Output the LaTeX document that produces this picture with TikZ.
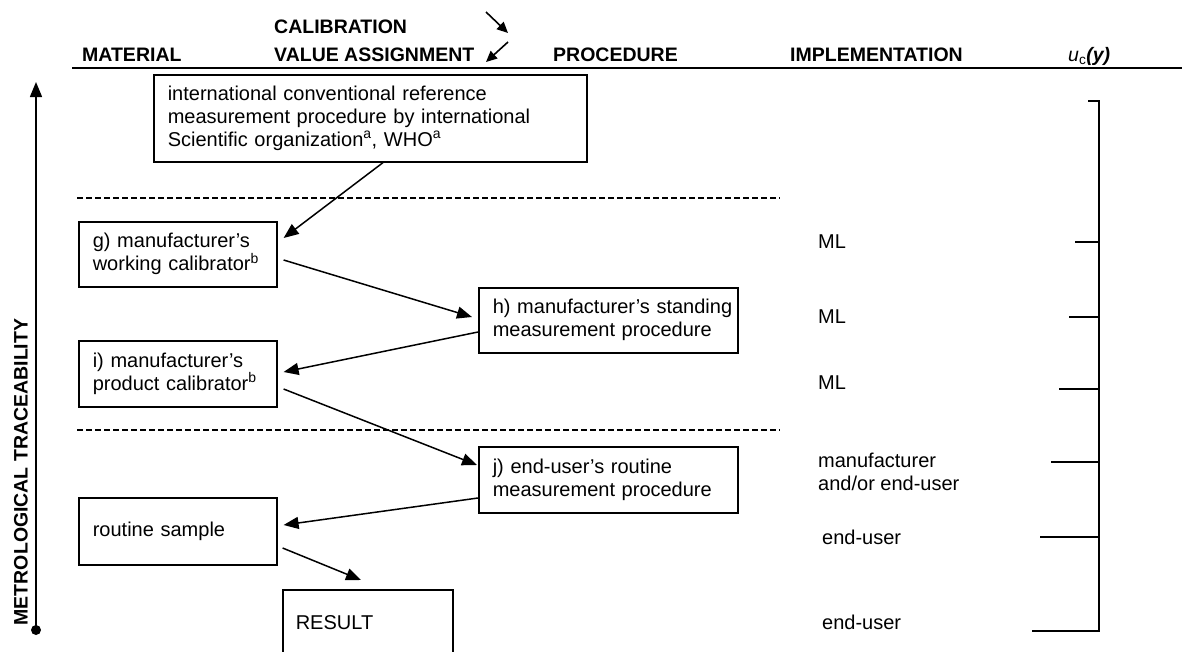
\documentclass[tikz,border=0pt]{standalone}
\usepackage{fontspec}
\setmainfont{Liberation Sans}
\usetikzlibrary{arrows.meta,calc}

\begin{document}
\begin{tikzpicture}[x=1pt,y=-1pt,
  every node/.style={font=\fontsize{20}{23}\selectfont, inner sep=0pt},
  box/.style={draw, line width=1.6pt, anchor=north west, align=left,
              inner xsep=14pt, inner ysep=0pt},
  head/.style={font=\fontsize{19.5}{23}\selectfont\bfseries, anchor=base west},
  lab/.style={anchor=west, align=left},
  conn/.style={line width=1.5pt, -{Triangle[length=15pt,width=12pt]}},
  smallarrow/.style={line width=1.6pt, -{Triangle[length=11pt,width=10pt]}},
  sep/.style={line width=1.2pt, dash pattern=on 6pt off 3pt},
  scale line/.style={line width=1.6pt}
]
\useasboundingbox (0,0) rectangle (1185,651);

% column headings
\node[head] (hmat)  at (82,61)  {MATERIAL};
\node[head] (hcal)  at (274,33) {CALIBRATION};
\node[head] (hval)  at (274,61) {VALUE ASSIGNMENT};
\node[head] (hproc) at (553,61) {PROCEDURE};
\node[head] (himp)  at (790,61) {IMPLEMENTATION};
\node[anchor=base west, font=\fontsize{19.5}{23}\selectfont] (hunc) at (1068,61)
  {\textit{u}\textsubscript{c}\textbf{\textit{(y)}}};
\coordinate (rl) at (72,68);
\coordinate (rr) at (1182,68);
\draw[line width=2pt] (rl) -- (rr);

% small direction arrows in the heading
\coordinate (da1) at (486,12);
\coordinate (da2) at (508,33);
\coordinate (db1) at (508,42);
\coordinate (db2) at (486,62);
\draw[smallarrow] (da1) -- (da2);
\draw[smallarrow] (db1) -- (db2);

% boxes
\node[box, text width=405pt, minimum height=87pt] (top) at (153,74)
  {international conventional reference\\
   measurement procedure by international\\
   Scientific organization\textsuperscript{a}, WHO\textsuperscript{a}};
\node[box, text width=170pt, minimum height=65pt] (g) at (78,221)
  {\mbox{g) manufacturer's}\\\mbox{working calibrator\textsuperscript{b}}};
\node[box, text width=231pt, minimum height=65pt] (h) at (478,287)
  {\mbox{h) manufacturer's standing}\\\mbox{measurement procedure}};
\node[box, text width=170pt, minimum height=66pt] (i) at (78,340)
  {\mbox{i) manufacturer's}\\\mbox{product calibrator\textsuperscript{b}}};
\node[box, text width=231pt, minimum height=66pt] (j) at (478,446)
  {\mbox{j) end-user's routine}\\\mbox{measurement procedure}};
\node[box, text width=170pt, minimum height=67pt] (rs) at (78,497)
  {routine sample};
\node[box, inner xsep=13pt, text width=144pt, minimum height=66pt] (res) at (282,589)
  {RESULT};

% separators
\coordinate (s1a) at (77,198);
\coordinate (s1b) at (780,198);
\coordinate (s2a) at (77,430);
\coordinate (s2b) at (780,430);
\draw[sep] (s1a) -- (s1b);
\draw[sep] (s2a) -- (s2b);

% calibration chain
\draw[conn] ($(top.south west)+(230,0)$) -- ($(g.north east)+(6,17)$);
\draw[conn] ($(g.north east)+(6,39)$) -- ($(h.north west)+(-6,30)$);
\draw[conn] ($(h.north west)+(0,45)$) -- ($(i.north east)+(6,32)$);
\draw[conn] ($(i.north east)+(6,49)$) -- ($(j.north west)+(-1,19)$);
\draw[conn] ($(j.north west)+(0,52)$) -- ($(rs.north east)+(6,28)$);
\draw[conn] ($(rs.north east)+(5,51)$) -- ($(res.north west)+(79,-9)$);

% implementation column
\node[lab] (m1) at (818,242) {ML};
\node[lab] (m2) at (818,317) {ML};
\node[lab] (m3) at (818,383) {ML};
\node[lab] (m4) at (818,472) {manufacturer\\and/or end-user};
\node[lab] (m5) at (822,537) {end-user};
\node[lab] (m6) at (822,622) {end-user};

% uncertainty scale
\draw[scale line] (1088,101) -- (1099,101) -- (1099,631) -- (1032,631);
\draw[scale line] (1075,242) -- (1099,242);
\draw[scale line] (1069,317) -- (1099,317);
\draw[scale line] (1059,389) -- (1099,389);
\draw[scale line] (1051,462) -- (1099,462);
\draw[scale line] (1040,537) -- (1099,537);

% traceability axis
\coordinate (ax0) at (36,630);
\coordinate (ax1) at (36,82);
\draw[line width=1.5pt, -{Triangle[length=15pt,width=12pt]}] (ax0) -- (ax1);
\fill (ax0) circle (5pt);
\node[rotate=90, font=\fontsize{19.5}{23}\selectfont\bfseries] (trace) at (21,472)
  {METROLOGICAL TRACEABILITY};
\end{tikzpicture}
\end{document}
